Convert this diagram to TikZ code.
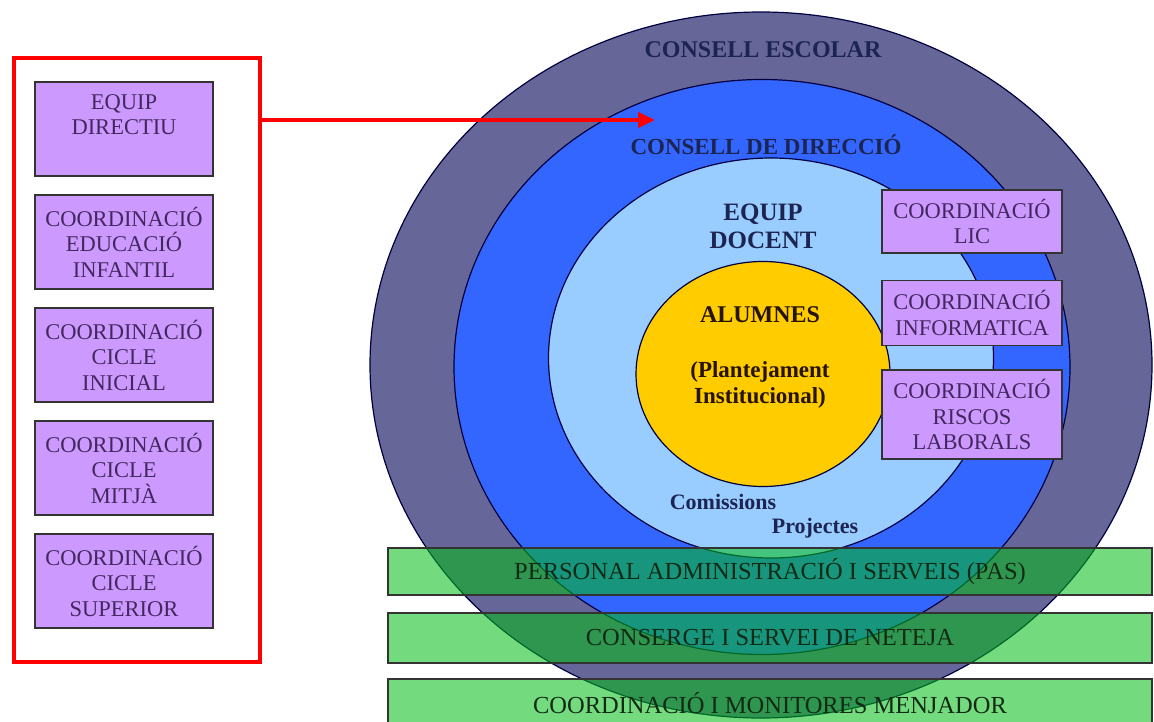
\documentclass[tikz,border=0pt]{standalone}
\usepackage{fontspec}
\setmainfont{Liberation Serif}
\usepackage{tikz}
\usetikzlibrary{arrows.meta,positioning,shapes.geometric}
\usepackage{xcolor}
\definecolor{escolar}{HTML}{666699}
\definecolor{direccio}{HTML}{3366FF}
\definecolor{docent}{HTML}{99CCFF}
\definecolor{alumnes}{HTML}{FFCC00}
\definecolor{lila}{HTML}{CC99FF}
\definecolor{lilatext}{HTML}{45275F}
\definecolor{navy}{HTML}{1C2452}
\definecolor{barfill}{RGB}{0,190,20}
\definecolor{bartext}{HTML}{132A14}

\begin{document}
\begin{tikzpicture}[x=1pt, y=-1pt,
  ring/.style={ellipse, draw=black!75!blue, line width=1.2pt, inner sep=0pt},
  coordbox/.style={rectangle, draw=black!80, line width=1.5pt, fill=lila,
    text=lilatext, minimum width=178pt, align=center, inner sep=0pt,
    font=\fontsize{22.5}{25.5}\selectfont},
  bar/.style={rectangle, draw=black!80, line width=1.5pt, fill=barfill,
    fill opacity=0.55, text opacity=1, text=bartext, minimum width=764pt,
    inner sep=0pt, font=\fontsize{24.5}{26}\selectfont},
  title/.style={text=navy, font=\fontsize{24}{27}\selectfont\bfseries, align=center}]
  \useasboundingbox (0,0) rectangle (1154,722);

  % circles
  \node[ring, fill=escolar, minimum width=782pt, minimum height=706pt] (escolar) at (761,365) {};
  \node[ring, fill=direccio, minimum width=616pt, minimum height=575pt] (direccio) at (762,367) {};
  \node[ring, fill=docent, minimum width=445pt, minimum height=400pt] (docent) at (771,358) {};
  \node[ring, fill=alumnes, minimum width=254pt, minimum height=225pt] (alumnes) at (763,374) {};

  \node[title] (tescolar) at (763,50) {CONSELL ESCOLAR};
  \node[title, font=\fontsize{23}{26}\selectfont\bfseries] (tdireccio) at (766,145) {CONSELL DE DIRECCIÓ};
  \node[title, font=\fontsize{25}{28}\selectfont\bfseries] (tdocent) at (763,226) {EQUIP\\DOCENT};
  \node[title, text=black!85!orange] (talumnes) at (760,315) {ALUMNES};
  \node[title, text=black!85!orange, font=\fontsize{23}{26}\selectfont\bfseries] (tplant) at (760,385) {(Plantejament\\Institucional)};
  \node[title, font=\fontsize{22}{24}\selectfont\bfseries] (comissions) at (723,502) {Comissions};
  \node[title, font=\fontsize{22}{24}\selectfont\bfseries] (projectes) at (815,528) {Projectes};

  % coordinacions de la dreta
  \node[coordbox, minimum width=180pt, minimum height=63pt] (lic) at (972,221.5) {COORDINACIÓ\\LIC};
  \node[coordbox, minimum width=180pt, minimum height=65pt, below=26pt of lic] (informatica) {COORDINACIÓ\\INFORMATICA};
  \node[coordbox, minimum width=180pt, minimum height=89pt, below=23pt of informatica] (riscos) {COORDINACIÓ\\RISCOS\\LABORALS};

  % personal
  \node[bar, minimum height=47pt] (pas) at (770,571.5) {PERSONAL ADMINISTRACIÓ I SERVEIS (PAS)};
  \node[bar, minimum height=50pt] (neteja) at (770,638) {CONSERGE I SERVEI DE NETEJA};
  \node[bar, minimum height=48pt] (menjador) at (770,703) {COORDINACIÓ I MONITORES MENJADOR};

  % equip directiu i coordinacions de cicle
  \node[draw=red, line width=4pt, minimum width=246pt, minimum height=604pt] (frame) at (137,360) {};
  \node[coordbox, minimum height=94pt] (directiu) at (124,129) {EQUIP\\DIRECTIU\\[-4pt]\strut};
  \node[coordbox, minimum height=94pt, below=17.5pt of directiu] (infantil) {COORDINACIÓ\\EDUCACIÓ\\INFANTIL};
  \node[coordbox, minimum height=94pt, below=17.5pt of infantil] (inicial) {COORDINACIÓ\\CICLE\\INICIAL};
  \node[coordbox, minimum height=94pt, below=17.5pt of inicial] (mitja) {COORDINACIÓ\\CICLE\\MITJÀ};
  \node[coordbox, minimum height=94pt, below=17.5pt of mitja] (superior) {COORDINACIÓ\\CICLE\\SUPERIOR};

  \coordinate (arrowend) at (655,120);
  \draw[red, line width=4pt, -{Triangle[length=17pt,width=15pt]}] (frame.east |- arrowend) -- (arrowend);
\end{tikzpicture}
\end{document}
